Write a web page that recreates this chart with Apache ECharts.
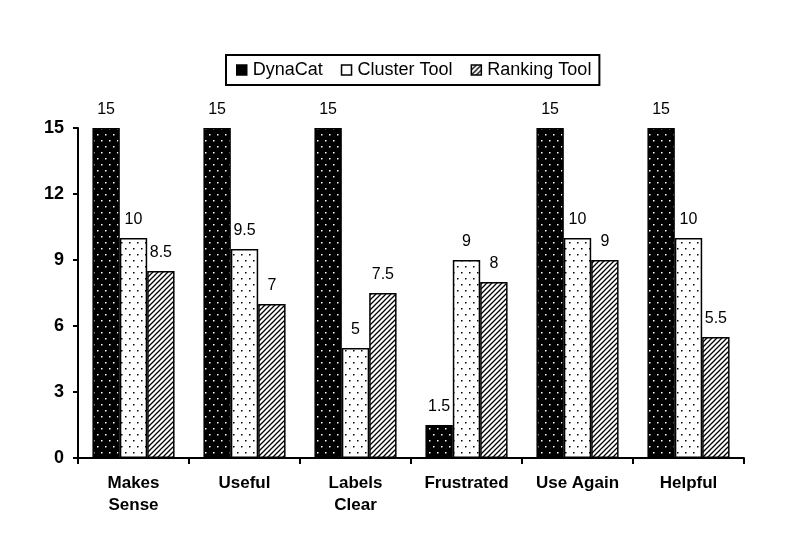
<!DOCTYPE html>
<html><head><meta charset="utf-8">
<script src="https://cdn.jsdelivr.net/npm/echarts@6/dist/echarts.min.js"></script>
<style>html,body{margin:0;padding:0;background:#fff}#c{width:800px;height:551px}</style>
</head><body><div id="c"></div>
<script>
const categories = ['Makes\nSense', 'Useful', 'Labels\nClear', 'Frustrated', 'Use Again', 'Helpful'];
const seriesNames = ['DynaCat', 'Cluster Tool', 'Ranking Tool'];
const dynaCat = [15, 15, 15, 1.5, 15, 15];
const clusterTool = [10, 9.5, 5, 9, 10, 10];
const rankingTool = [8.5, 7, 7.5, 8, 9, 5.5];
const yTicks = [0, 3, 6, 9, 12, 15];

function dotPattern(bg, fg) {
  const c = document.createElement('canvas');
  c.width = 8; c.height = 12;
  const g = c.getContext('2d');
  g.fillStyle = bg; g.fillRect(0, 0, 8, 12);
  g.fillStyle = fg;
  g.fillRect(1, 2, 1.5, 1.5);
  g.fillRect(5, 8, 1.5, 1.5);
  return c;
}
function hatchPattern() {
  const c = document.createElement('canvas');
  c.width = 5; c.height = 5;
  const g = c.getContext('2d');
  g.fillStyle = '#fff'; g.fillRect(0, 0, 5, 5);
  g.strokeStyle = '#000'; g.lineWidth = 1.3;
  g.beginPath();
  g.moveTo(-1, 6); g.lineTo(6, -1);
  g.moveTo(-1, 1); g.lineTo(1, -1);
  g.moveTo(4, 6); g.lineTo(6, 4);
  g.stroke();
  return c;
}
const fills = [
  { image: dotPattern('#000', '#fff'), repeat: 'repeat' },
  { image: dotPattern('#fff', '#000'), repeat: 'repeat' },
  { image: hatchPattern(), repeat: 'repeat' }
];
const legendFills = ['#000', '#fff', fills[2]];
const font = 'Liberation Sans, Arial, Helvetica, sans-serif';
const chart = echarts.init(document.getElementById('c'), null, { renderer: 'canvas' });
const data = [dynaCat, clusterTool, rankingTool];
chart.setOption({
  animation: false,
  backgroundColor: '#fff',
  textStyle: { fontFamily: font },
  legend: {
    left: 226, top: 55,
    itemWidth: 10, itemHeight: 10, itemGap: 18,
    borderColor: '#000', borderWidth: 2,
    padding: [6, 8, 6, 10],
    textStyle: { fontSize: 18, color: '#000', fontFamily: font, padding: [0, 0, 0, 1] },
    icon: 'rect',
    data: seriesNames.map((n, i) => ({ name: n, itemStyle: { color: legendFills[i], borderColor: '#000', borderWidth: 1.5 } }))
  },
  grid: { left: 78, right: 56, top: 128, bottom: 93 },
  xAxis: {
    type: 'category',
    data: categories,
    axisLine: { lineStyle: { color: '#000', width: 2 } },
    axisTick: { show: true, length: 6, lineStyle: { color: '#000', width: 2 } },
    axisLabel: { color: '#000', fontWeight: 'bold', fontSize: 17, lineHeight: 22, margin: 14, fontFamily: font }
  },
  yAxis: {
    type: 'value',
    min: 0, max: 15, interval: 3,
    splitLine: { show: false },
    axisLine: { show: true, lineStyle: { color: '#000', width: 2 } },
    axisTick: { show: true, length: 5, lineStyle: { color: '#000', width: 2 } },
    axisLabel: { color: '#000', fontWeight: 'bold', fontSize: 18, margin: 14, fontFamily: font,
      formatter: v => yTicks.includes(v) ? String(v) : '' }
  },
  series: seriesNames.map((n, i) => ({
    name: n,
    type: 'bar',
    data: data[i],
    barGap: '0%',
    barCategoryGap: '26%',
    itemStyle: { color: fills[i], borderColor: '#000', borderWidth: 1.5 },
    label: { show: true, position: 'top', distance: 10, color: '#000', fontSize: 16, fontFamily: font }
  }))
});
</script></body></html>
